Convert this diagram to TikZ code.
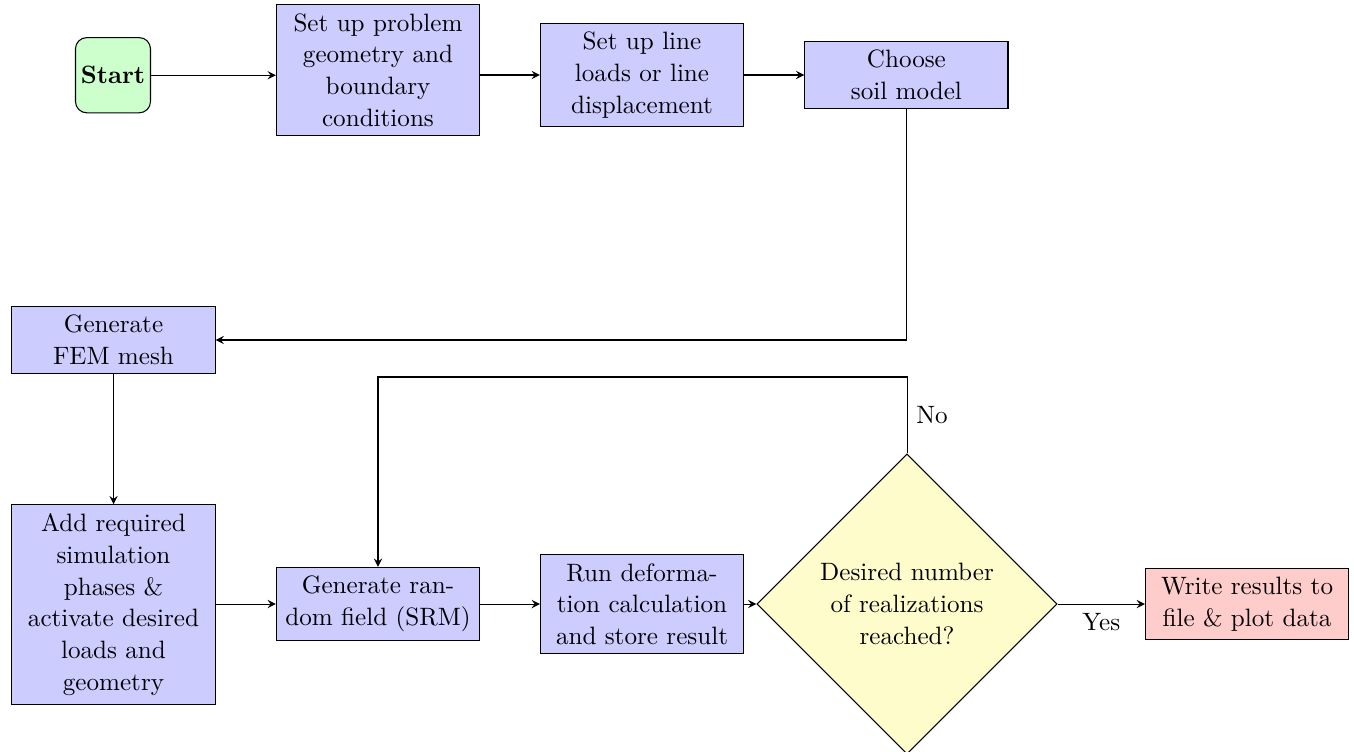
\documentclass[tikz,border=0pt]{standalone}
\usepackage{amsmath, amssymb}
\usepackage{tikz}
\usetikzlibrary{shapes.geometric}

\begin{document}
\begin{tikzpicture}[every node/.style={font=\fontsize{9.5pt}{12pt}\selectfont}]
        \tikzstyle{startbox} = [draw, rectangle, rounded corners=0.15cm, fill=green!20, minimum width=0.93cm, minimum height=1cm, inner sep=2pt, align=center, font=\fontsize{9.5pt}{12pt}\selectfont\bfseries]
        \tikzstyle{proc} = [draw, rectangle, fill=blue!20, minimum width=2.7cm, align=center]
        \tikzstyle{decision} = [draw, diamond, aspect=1, fill=yellow!20, minimum size=3.99cm, inner sep=0pt, align=center]
        \tikzstyle{endbox} = [draw, rectangle, fill=red!20, minimum width=2.7cm, align=center]
        \useasboundingbox (0, 0) rectangle (18, -9.984);
        \node[startbox] (start) at (1.502, -1.0) {Start};
        \node[proc] (geom) at (5.025, -0.93) {Set up problem\\geometry and\\boundary\\conditions};
        \node[proc] (loads) at (8.535, -0.997) {Set up line\\loads or line\\displacement};
        \node[proc] (soil) at (12.05, -0.997) {Choose\\soil model};
        \node[proc] (mesh) at (1.509, -4.52) {Generate\\FEM mesh};
        \node[proc] (phases) at (1.509, -8.036) {Add required\\simulation\\phases \&\\activate desired\\loads and\\geometry};
        \node[proc] (field) at (5.025, -8.03) {Generate ran-\\dom field (SRM)};
        \node[proc] (calc) at (8.535, -8.03) {Run deforma-\\tion calculation\\and store result};
        \node[decision] (check) at (12.058, -8.03) {Desired number\\of realizations\\reached?};
        \node[endbox] (write) at (16.578, -8.03) {Write results to\\file \& plot data};
        \coordinate (loop) at (12.058, -5.012);
        \draw[->, >=stealth] (start.east) -- (start.east -| geom.west);
        \draw[->, >=stealth] (geom.east |- loads) -- (loads.west);
        \draw[->, >=stealth] (loads) -- (soil);
        \draw[->, >=stealth] (soil.south) |- (mesh.east);
        \draw[->, >=stealth] (mesh) -- (phases);
        \draw[->, >=stealth] (phases.east |- field) -- (field.west);
        \draw[->, >=stealth] (field) -- (calc);
        \draw[->, >=stealth] (calc) -- (check);
        \draw[->, >=stealth] (check) -- node[below] {Yes} (write);
        \draw[->, >=stealth] (check.north) -- node[right, pos=0.5] {No} (loop) -| (field.north);
      \end{tikzpicture}
\end{document}
